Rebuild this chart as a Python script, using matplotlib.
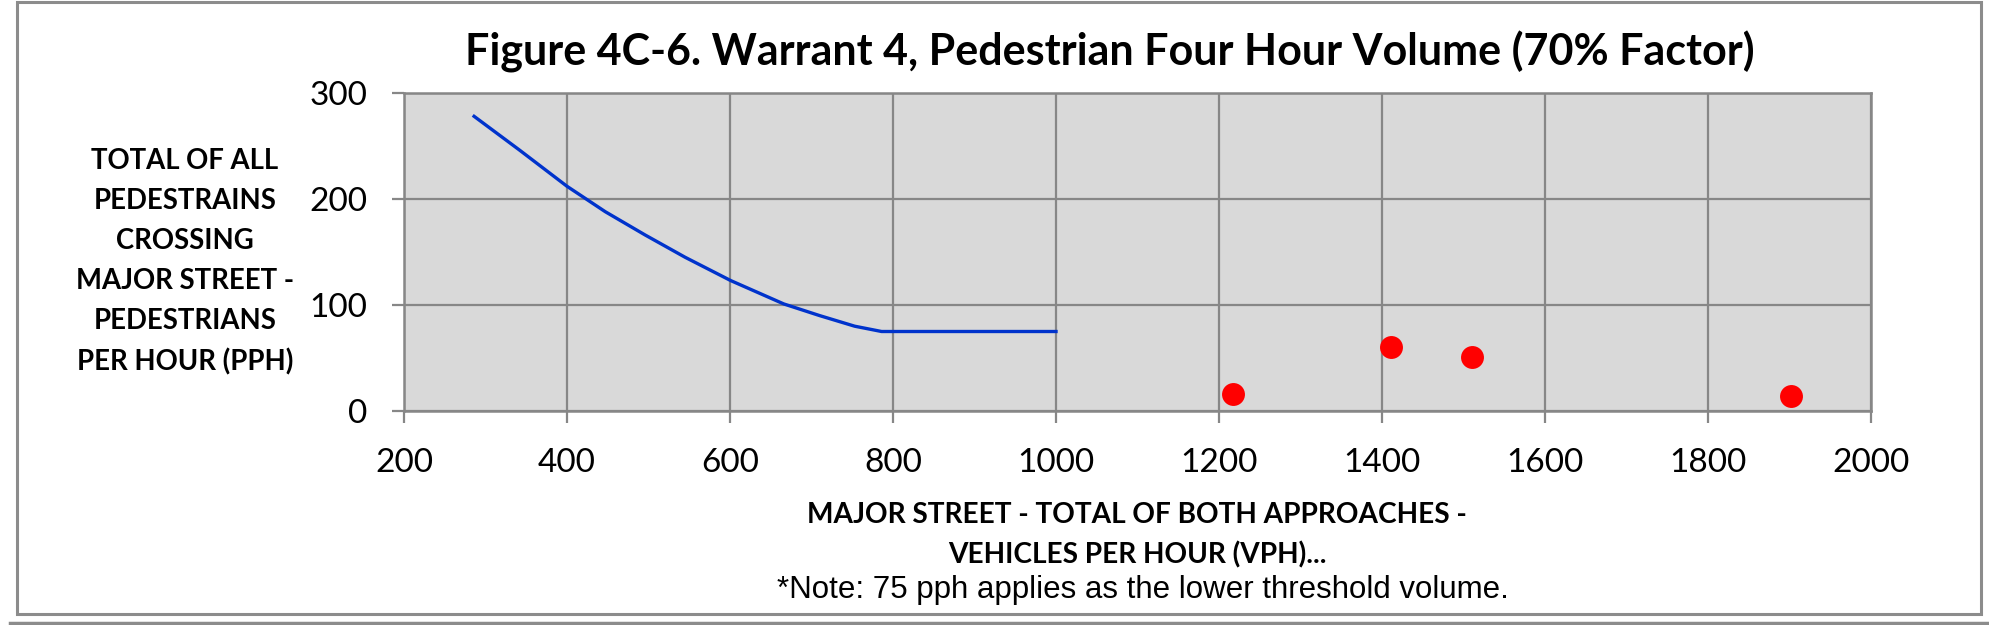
import matplotlib
matplotlib.use("Agg")
import matplotlib.pyplot as plt
from matplotlib.lines import Line2D
from matplotlib.patches import Rectangle

# threshold curve (70% factor)
CURVE_VPH = [286, 342, 400, 447, 496, 545, 601, 666, 710, 753, 786, 1000]
CURVE_PPH = [278, 246, 212, 188, 166, 145, 123, 101, 90, 80, 75, 75]

# observed intersection counts
OBS_VPH = [1217, 1411, 1511, 1902]
OBS_PPH = [16, 60, 51, 14]

X_TICKS = [200, 400, 600, 800, 1000, 1200, 1400, 1600, 1800, 2000]
Y_TICKS = [0, 100, 200, 300]

TITLE = "Figure 4C-6. Warrant 4, Pedestrian Four Hour Volume (70% Factor)"
YLABEL = "TOTAL OF ALL\nPEDESTRAINS\nCROSSING\nMAJOR STREET -\nPEDESTRIANS\nPER HOUR (PPH)"
XLABEL = "MAJOR STREET - TOTAL OF BOTH APPROACHES -\nVEHICLES PER HOUR (VPH)..."
NOTE = "*Note: 75 pph applies as the lower threshold volume."

GRID = "#878787"
W, H = 1990, 625

plt.rcParams["font.family"] = ["Lato", "DejaVu Sans"]

fig = plt.figure(figsize=(W / 100, H / 100), dpi=100)
fig.patch.set_facecolor("white")

# chart-area border and the edge of the next chart below it
fig.add_artist(Rectangle((17 / W, 1 - 614 / H), (1981 - 17) / W, (614 - 2) / H,
                         transform=fig.transFigure, fill=False,
                         edgecolor="#8c8c8c", linewidth=2.2))
fig.add_artist(Line2D([10 / W, 1.0], [1 - 623 / H] * 2, transform=fig.transFigure,
                      color="#8c8c8c", linewidth=2.5))

ax = fig.add_axes([404 / W, 1 - 411 / H, (1871 - 404) / W, (411 - 93) / H])
ax.set_facecolor("#d9d9d9")
ax.plot(CURVE_VPH, CURVE_PPH, color="#0033cc", linewidth=2.4, zorder=3,
        solid_joinstyle="round")
ax.plot(OBS_VPH, OBS_PPH, linestyle="none", marker="o", markersize=16.5,
        color="#ff0000", markeredgewidth=0, zorder=4)

ax.set_xlim(200, 2000)
ax.set_ylim(0, 300)
ax.set_xticks(X_TICKS)
ax.set_yticks(Y_TICKS)
ax.grid(True, color=GRID, linewidth=1.6)
ax.set_axisbelow(True)
for s in ax.spines.values():
    s.set_color(GRID)
    s.set_linewidth(1.8)
ax.tick_params(axis="both", color=GRID, width=1.6, length=8.5, labelsize=24,
               pad=18)

fig.text(1110 / W, 1 - 52 / H, TITLE, ha="center", va="center",
         fontsize=31, fontweight="bold")
fig.text(185 / W, 1 - 262 / H, YLABEL, ha="center", va="center",
         fontsize=19.8, fontweight="bold", linespacing=1.66)
fig.text(1137 / W, 1 - 535 / H, XLABEL, ha="center", va="center",
         fontsize=20.2, fontweight="bold", linespacing=1.62)
fig.text(1143 / W, 1 - 590 / H, NOTE, ha="center", va="center",
         fontsize=22.5, family="Liberation Sans")

fig.savefig("out.png", dpi=100)
